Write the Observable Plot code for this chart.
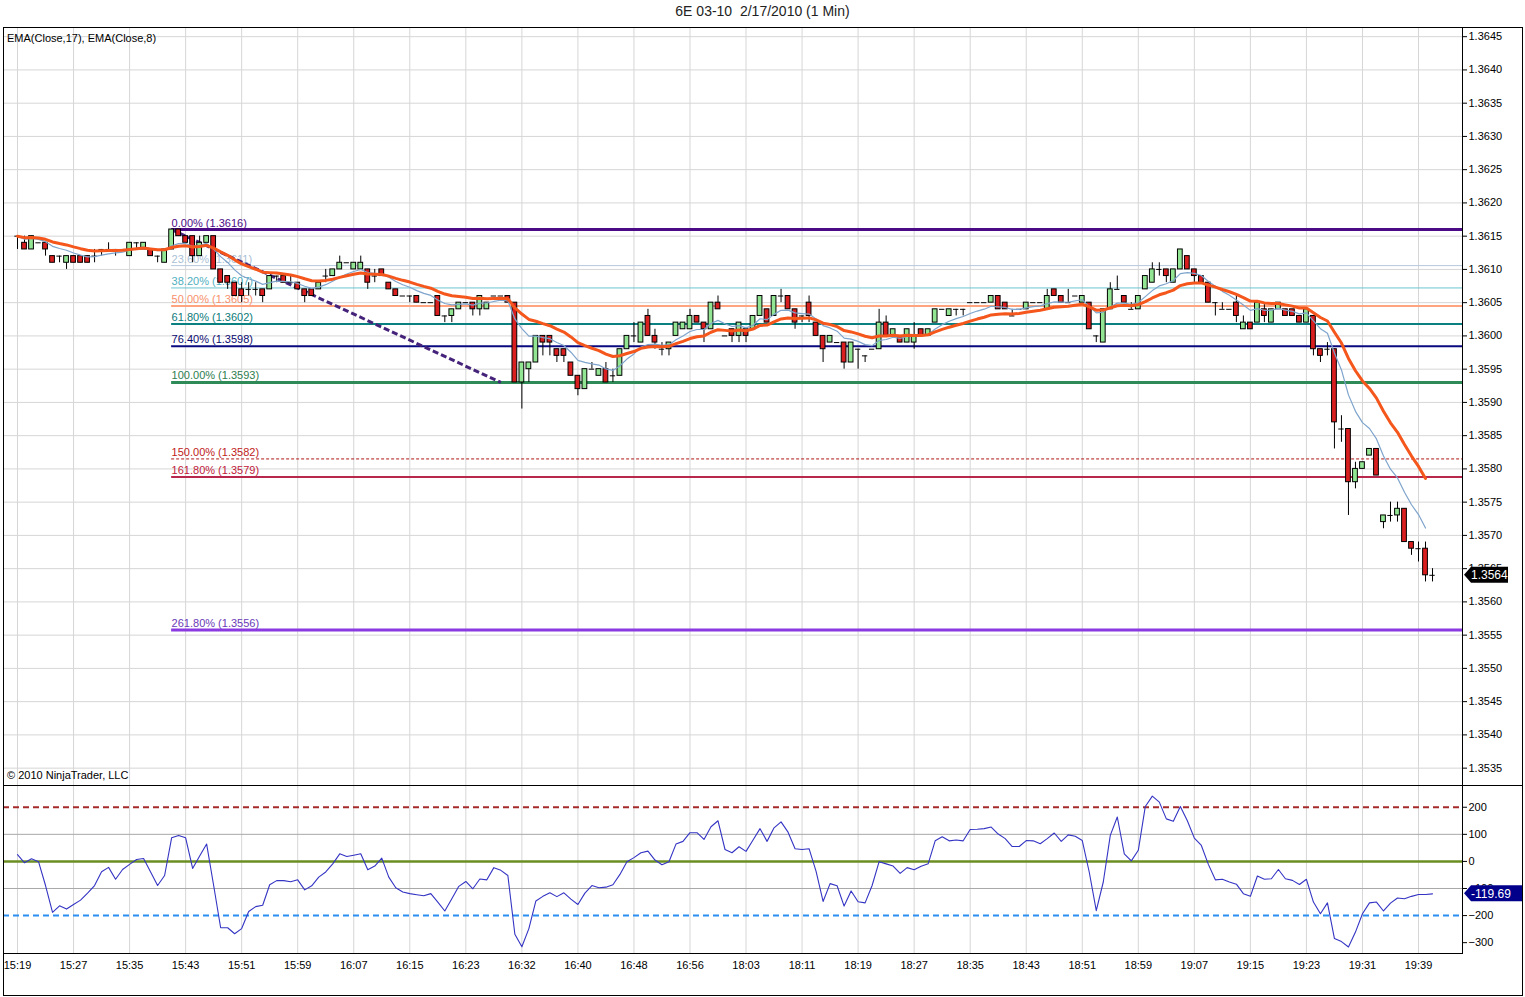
<!DOCTYPE html>
<html><head><meta charset="utf-8">
<script src="https://cdn.jsdelivr.net/npm/d3@7"></script>
<script src="https://cdn.jsdelivr.net/npm/@observablehq/plot@0.6"></script>
<style>
html,body{margin:0;padding:0;background:#fff;overflow:hidden;}
#wrap{position:relative;width:1525px;height:997px;font-family:"Liberation Sans",Arial,sans-serif;}
#title{position:absolute;left:0;top:3px;width:1525px;text-align:center;font-size:14px;color:#222;white-space:pre;}
#outer{position:absolute;left:3px;top:27px;width:1520px;height:969px;border:1px solid #000;box-sizing:border-box;}
#sep{position:absolute;left:3px;top:785px;width:1520px;height:1px;background:#000;}
#price{position:absolute;left:0;top:27px;}
#cci{position:absolute;left:0;top:785px;}
.note{position:absolute;left:7px;font-size:11px;color:#000;}
</style></head>
<body>
<div id="wrap">
  <div id="outer"></div>
  <div id="title">6E 03-10  2/17/2010 (1 Min)</div>
  <div id="price"></div>
  <div id="cci"></div>
  <div id="sep"></div>
  <div class="note" style="top:32px">EMA(Close,17), EMA(Close,8)</div>
  <div class="note" style="top:769px">© 2010 NinjaTrader, LLC</div>
</div>
<script>
// ---- data ----
const timeLabels = ["15:19","15:27","15:35","15:43","15:51","15:59","16:07","16:15","16:23","16:32","16:40","16:48","16:56","18:03","18:11","18:19","18:27","18:35","18:43","18:51","18:59","19:07","19:15","19:23","19:31","19:39"];
const timeLabelBars = [0,8,16,24,32,40,48,56,64,72,80,88,96,104,112,120,128,136,144,152,160,168,176,184,192,200];
const priceTicks = [1.3535,1.3540,1.3545,1.3550,1.3555,1.3560,1.3565,1.3570,1.3575,1.3580,1.3585,1.3590,1.3595,1.3600,1.3605,1.3610,1.3615,1.3620,1.3625,1.3630,1.3635,1.3640,1.3645];
const cciTicks = [200,100,0,-100,-200,-300];
const cciLevels = [200,0,-200];

const open = [
1.3615,1.3614,1.3613,1.3614,1.3614,1.3612,1.3612,1.3611,1.3612,1.3612,
1.3612,1.3612,1.3613,1.3613,1.3613,1.3613,1.3612,1.3614,1.3613,1.3613,
1.3612,1.3611,1.3613,1.3616,1.3615,1.3615,1.3612,1.3614,1.3615,1.3610,
1.3609,1.3608,1.3607,1.3607,1.3607,1.3607,1.3607,1.3609,1.3609,1.3608,
1.3608,1.3607,1.3607,1.3607,1.3609,1.3609,1.3610,1.3611,1.3610,1.3610,
1.3610,1.3609,1.3610,1.3608,1.3607,1.3606,1.3606,1.3606,1.3605,1.3605,
1.3606,1.3603,1.3603,1.3604,1.3605,1.3605,1.3604,1.3604,1.3606,1.3606,
1.3606,1.3605,1.3593,1.3595,1.3596,1.3600,1.3600,1.3598,1.3598,1.3596,
1.3594,1.3592,1.3595,1.3594,1.3595,1.3594,1.3594,1.3598,1.3600,1.3599,
1.3603,1.3600,1.3598,1.3598,1.3600,1.3601,1.3601,1.3603,1.3602,1.3601,
1.3605,1.3600,1.3601,1.3600,1.3601,1.3601,1.3603,1.3604,1.3603,1.3606,
1.3606,1.3604,1.3603,1.3605,1.3602,1.3600,1.3599,1.3599,1.3599,1.3596,
1.3598,1.3597,1.3598,1.3598,1.3602,1.3600,1.3600,1.3599,1.3599,1.3601,
1.3600,1.3602,1.3604,1.3603,1.3604,1.3604,1.3605,1.3605,1.3605,1.3605,
1.3606,1.3605,1.3603,1.3604,1.3604,1.3605,1.3605,1.3604,1.3607,1.3606,
1.3605,1.3606,1.3605,1.3605,1.3600,1.3599,1.3604,1.3607,1.3606,1.3604,
1.3604,1.3607,1.3608,1.3610,1.3610,1.3608,1.3610,1.3612,1.3610,1.3609,
1.3608,1.3605,1.3604,1.3604,1.3605,1.3601,1.3602,1.3602,1.3604,1.3602,
1.3604,1.3604,1.3604,1.3603,1.3602,1.3603,1.3598,1.3598,1.3598,1.3586,
1.3586,1.3578,1.3580,1.3582,1.3583,1.3572,1.3573,1.3573,1.3574,1.3569,
1.3568,1.3568,1.3564];
const high = [
1.3615,1.3615,1.3615,1.3614,1.3614,1.3612,1.3612,1.3612,1.3612,1.3612,
1.3612,1.3613,1.3613,1.3614,1.3613,1.3613,1.3614,1.3614,1.3614,1.3613,
1.3612,1.3613,1.3616,1.3616,1.3615,1.3615,1.3615,1.3615,1.3615,1.3610,
1.3609,1.3608,1.3608,1.3608,1.3608,1.3607,1.3609,1.3609,1.3609,1.3609,
1.3608,1.3607,1.3607,1.3608,1.3610,1.3610,1.3612,1.3611,1.3611,1.3612,
1.3610,1.3610,1.3610,1.3608,1.3607,1.3606,1.3606,1.3606,1.3605,1.3605,
1.3606,1.3603,1.3604,1.3605,1.3605,1.3605,1.3606,1.3605,1.3606,1.3606,
1.3606,1.3605,1.3596,1.3596,1.3600,1.3600,1.3600,1.3598,1.3598,1.3596,
1.3594,1.3595,1.3596,1.3595,1.3596,1.3595,1.3598,1.3600,1.3602,1.3602,
1.3604,1.3601,1.3599,1.3599,1.3602,1.3602,1.3604,1.3603,1.3602,1.3605,
1.3606,1.3600,1.3601,1.3602,1.3601,1.3603,1.3606,1.3604,1.3606,1.3607,
1.3606,1.3604,1.3603,1.3606,1.3602,1.3600,1.3600,1.3599,1.3599,1.3599,
1.3598,1.3597,1.3598,1.3604,1.3603,1.3601,1.3600,1.3601,1.3602,1.3601,
1.3601,1.3604,1.3604,1.3604,1.3604,1.3604,1.3605,1.3605,1.3605,1.3606,
1.3606,1.3605,1.3604,1.3604,1.3605,1.3605,1.3605,1.3607,1.3607,1.3606,
1.3607,1.3606,1.3606,1.3605,1.3600,1.3604,1.3608,1.3609,1.3606,1.3605,
1.3606,1.3609,1.3611,1.3611,1.3610,1.3610,1.3613,1.3612,1.3610,1.3609,
1.3608,1.3605,1.3605,1.3604,1.3606,1.3603,1.3602,1.3605,1.3605,1.3604,
1.3605,1.3604,1.3604,1.3603,1.3604,1.3603,1.3598,1.3599,1.3598,1.3588,
1.3586,1.3581,1.3581,1.3583,1.3583,1.3573,1.3575,1.3575,1.3574,1.3569,
1.3569,1.3569,1.3565];
const low = [
1.3613,1.3613,1.3613,1.3614,1.3612,1.3611,1.3611,1.3610,1.3611,1.3611,
1.3611,1.3611,1.3612,1.3613,1.3612,1.3613,1.3612,1.3613,1.3613,1.3612,
1.3611,1.3611,1.3613,1.3615,1.3614,1.3611,1.3612,1.3614,1.3610,1.3608,
1.3607,1.3606,1.3605,1.3606,1.3606,1.3605,1.3607,1.3608,1.3608,1.3608,
1.3607,1.3605,1.3606,1.3607,1.3608,1.3609,1.3610,1.3611,1.3610,1.3610,
1.3607,1.3608,1.3609,1.3607,1.3606,1.3606,1.3605,1.3605,1.3605,1.3605,
1.3603,1.3602,1.3602,1.3604,1.3605,1.3603,1.3603,1.3604,1.3606,1.3606,
1.3605,1.3593,1.3589,1.3593,1.3596,1.3597,1.3597,1.3596,1.3596,1.3594,
1.3591,1.3592,1.3595,1.3594,1.3593,1.3593,1.3594,1.3598,1.3599,1.3599,
1.3600,1.3598,1.3597,1.3597,1.3600,1.3601,1.3601,1.3602,1.3599,1.3601,
1.3604,1.3600,1.3599,1.3599,1.3599,1.3601,1.3603,1.3602,1.3603,1.3605,
1.3604,1.3601,1.3602,1.3602,1.3600,1.3596,1.3599,1.3599,1.3595,1.3596,
1.3595,1.3596,1.3598,1.3598,1.3600,1.3600,1.3599,1.3599,1.3598,1.3600,
1.3600,1.3602,1.3604,1.3603,1.3603,1.3603,1.3605,1.3605,1.3605,1.3605,
1.3604,1.3604,1.3603,1.3604,1.3604,1.3605,1.3605,1.3604,1.3606,1.3605,
1.3605,1.3606,1.3605,1.3601,1.3599,1.3599,1.3604,1.3607,1.3605,1.3604,
1.3604,1.3607,1.3608,1.3609,1.3608,1.3608,1.3610,1.3610,1.3608,1.3608,
1.3605,1.3603,1.3604,1.3604,1.3602,1.3601,1.3601,1.3602,1.3602,1.3602,
1.3604,1.3603,1.3603,1.3602,1.3602,1.3597,1.3596,1.3597,1.3583,1.3584,
1.3573,1.3577,1.3580,1.3582,1.3579,1.3571,1.3572,1.3572,1.3569,1.3567,
1.3566,1.3563,1.3563];
const close = [
1.3615,1.3613,1.3615,1.3614,1.3613,1.3611,1.3612,1.3612,1.3611,1.3611,
1.3611,1.3612,1.3613,1.3613,1.3613,1.3613,1.3614,1.3614,1.3614,1.3612,
1.3612,1.3613,1.3616,1.3615,1.3614,1.3612,1.3614,1.3615,1.3610,1.3608,
1.3608,1.3606,1.3606,1.3607,1.3607,1.3606,1.3609,1.3609,1.3608,1.3608,
1.3607,1.3606,1.3606,1.3608,1.3609,1.3610,1.3611,1.3611,1.3611,1.3611,
1.3608,1.3609,1.3609,1.3607,1.3606,1.3606,1.3606,1.3605,1.3605,1.3605,
1.3603,1.3603,1.3604,1.3605,1.3605,1.3604,1.3606,1.3605,1.3606,1.3606,
1.3605,1.3593,1.3596,1.3596,1.3600,1.3599,1.3599,1.3597,1.3597,1.3594,
1.3592,1.3595,1.3595,1.3595,1.3593,1.3594,1.3598,1.3600,1.3600,1.3602,
1.3600,1.3599,1.3598,1.3599,1.3602,1.3602,1.3603,1.3602,1.3601,1.3605,
1.3604,1.3600,1.3600,1.3602,1.3600,1.3603,1.3606,1.3602,1.3606,1.3606,
1.3604,1.3602,1.3603,1.3603,1.3600,1.3598,1.3600,1.3599,1.3596,1.3599,
1.3598,1.3597,1.3598,1.3602,1.3600,1.3601,1.3599,1.3601,1.3600,1.3600,
1.3601,1.3604,1.3604,1.3604,1.3604,1.3604,1.3605,1.3605,1.3605,1.3606,
1.3604,1.3604,1.3603,1.3604,1.3605,1.3605,1.3605,1.3606,1.3606,1.3605,
1.3605,1.3606,1.3606,1.3601,1.3600,1.3604,1.3607,1.3607,1.3605,1.3604,
1.3606,1.3609,1.3610,1.3610,1.3609,1.3610,1.3613,1.3610,1.3609,1.3608,
1.3605,1.3605,1.3604,1.3604,1.3603,1.3602,1.3601,1.3605,1.3603,1.3604,
1.3605,1.3603,1.3603,1.3602,1.3604,1.3598,1.3597,1.3598,1.3587,1.3586,
1.3578,1.3580,1.3581,1.3583,1.3579,1.3573,1.3573,1.3574,1.3569,1.3568,
1.3568,1.3564,1.3564];
const cci = [
25,-5,10,-1,-89,-188,-164,-176,-159,-143,
-117,-89,-38,-22,-66,-30,-11,7,11,-39,
-89,-52,87,96,87,-26,20,64,-89,-245,
-245,-267,-248,-185,-167,-162,-86,-71,-71,-75,
-68,-105,-90,-58,-39,-9,28,18,23,28,
-31,-17,12,-58,-97,-113,-119,-123,-127,-119,
-150,-183,-138,-92,-74,-101,-65,-68,-23,-33,
-52,-269,-315,-248,-146,-129,-116,-130,-116,-139,
-159,-117,-89,-97,-95,-86,-48,-1,14,32,
38,5,-12,-1,64,74,106,106,81,128,
150,44,32,54,37,79,121,74,124,146,
108,47,44,47,-37,-148,-82,-90,-165,-109,
-149,-153,-89,-1,-9,-17,-44,-23,-31,-18,
-9,76,91,76,79,76,118,119,121,127,
101,84,55,55,77,76,65,84,105,74,
98,93,77,-40,-182,-76,96,164,28,2,
41,203,241,219,157,148,203,150,86,59,
-11,-68,-66,-76,-84,-119,-129,-54,-66,-64,
-30,-64,-70,-85,-66,-150,-193,-153,-285,-296,
-316,-261,-193,-153,-150,-183,-154,-135,-138,-129,
-122,-122,-119.69];

// Fibonacci drawing: anchors and ratios
const fibHigh = 1.3616, fibLow = 1.3593;
const fibStartBar = 22, fibEndBar = 69;
const fibRatios = [0, 0.236, 0.382, 0.5, 0.618, 0.764, 1, 1.5, 1.618, 2.618];
const fibNames = ["0.00%","23.60%","38.20%","50.00%","61.80%","76.40%","100.00%","150.00%","161.80%","261.80%"];
const fibValueLabels = ["1.3616","1.3611","1.3607","1.3605","1.3602","1.3598","1.3593","1.3582","1.3579","1.3556"];
const emaPeriods = [17, 8];

// ---- styles ----
const fibStyles = [
  {line:"#4b0b86", text:"#4b0b86", w:3},
  {line:"#b4c8dc", text:"#a9bfd6", w:1},
  {line:"#6cc4d0", text:"#4fb0c0", w:1},
  {line:"#ffa47e", text:"#f7906a", w:2},
  {line:"#0b8080", text:"#0b7a7a", w:2},
  {line:"#0a0a80", text:"#0a0a70", w:2},
  {line:"#2e8b57", text:"#2e7d50", w:3},
  {line:"#b01818", text:"#c01a1a", w:1, dash:"3,2"},
  {line:"#b8284c", text:"#c0203a", w:2},
  {line:"#8a3ae0", text:"#6a3ab8", w:3}
];
const FONT = "Liberation Sans, Arial, sans-serif";
const xMin = -2, xMax = 206.28;

// ---- derived ----
const bars = open.map((o, i) => ({i, o, h: high[i], l: low[i], c: close[i]}));
const up = bars.filter(d => d.c > d.o);
const down = bars.filter(d => d.c < d.o);
const flat = bars.filter(d => d.c === d.o);
function ema(vals, n) {
  const a = 2 / (n + 1); let e = vals[0];
  return vals.map((v, k) => { e = k === 0 ? v : e + a * (v - e); return {i: k, v: e}; });
}
const closedBars = close.slice(0, close.length - 1);
const ema17 = ema(closedBars, emaPeriods[0]);
const ema8 = ema(closedBars, emaPeriods[1]);
const fibs = fibRatios.map((r, k) => ({
  price: fibHigh - r * (fibHigh - fibLow),
  label: `${fibNames[k]} (${fibValueLabels[k]})`,
  st: fibStyles[k]
}));
const trend = [{i: fibStartBar, p: fibHigh}, {i: fibEndBar, p: fibLow}];
const cciData = cci.map((v, i) => ({i, v}));

const fibMarks = fibs.flatMap(f => [
  Plot.ruleY([f.price], {x1: fibStartBar, x2: xMax, stroke: f.st.line, strokeWidth: f.st.w, strokeDasharray: f.st.dash || null}),
  Plot.text([f], {x: fibStartBar, y: "price", text: "label", textAnchor: "start", lineAnchor: "bottom", dy: -3, fill: f.st.text, fontSize: 11})
]);

const priceSvg = Plot.plot({
  width: 1525, height: 758, marginLeft: 3, marginRight: 63, marginTop: 0, marginBottom: 0,
  style: {fontFamily: FONT, fontSize: "11px", background: "transparent", overflow: "visible"},
  x: {type: "linear", domain: [xMin, xMax], axis: null},
  y: {domain: [1.353239, 1.364638], label: null},
  marks: [
    Plot.gridY(priceTicks, {stroke: "#d6d6d6", strokeOpacity: 1}),
    Plot.ruleX(timeLabelBars, {stroke: "#d6d6d6"}),
    ...fibMarks,
    Plot.line(trend, {x: "i", y: "p", stroke: "#45237a", strokeWidth: 3, strokeDasharray: "6,3", strokeLinecap: "butt"}),
    Plot.ruleX(bars, {x: "i", y1: "l", y2: "h", stroke: "#000", strokeWidth: 1}),
    Plot.rect(up, {x1: d => d.i - 0.34, x2: d => d.i + 0.34, y1: "o", y2: "c", fill: "#92e592", stroke: "#000", strokeWidth: 1}),
    Plot.rect(down, {x1: d => d.i - 0.34, x2: d => d.i + 0.34, y1: "o", y2: "c", fill: "#d81e1e", stroke: "#000", strokeWidth: 1}),
    Plot.ruleY(flat, {y: "o", x1: d => d.i - 0.38, x2: d => d.i + 0.38, stroke: "#000", strokeWidth: 1}),
    Plot.line(ema8, {x: "i", y: "v", stroke: "#7ea4cc", strokeWidth: 1.2}),
    Plot.line(ema17, {x: "i", y: "v", stroke: "#f4561b", strokeWidth: 3, strokeLinejoin: "round"}),
    Plot.axisY(priceTicks, {anchor: "right", label: null, tickFormat: d3.format(".4f"), tickSize: 4, tickPadding: 2, fontSize: 11, color: "#000"}),
    Plot.frame({stroke: "#000"})
  ]
});
document.getElementById("price").appendChild(priceSvg);

// last price marker
{
  const last = close[close.length - 1];
  const yy = priceSvg.scale("y").apply(last);
  const x0 = priceSvg.scale("x").apply(xMax);
  const g = d3.select(priceSvg).append("g");
  g.append("path").attr("d", `M${x0+2},${yy} L${x0+9},${yy-8} L${x0+46},${yy-8} L${x0+46},${yy+8} L${x0+9},${yy+8} Z`).attr("fill", "#000");
  g.append("text").attr("x", x0 + 9).attr("y", yy).attr("dy", "0.35em").attr("fill", "#fff").attr("text-anchor", "start")
    .attr("font-size", 12).attr("font-family", FONT).text(last.toFixed(4));
}

const cciSvg = Plot.plot({
  width: 1525, height: 210, marginLeft: 3, marginRight: 63, marginTop: 0, marginBottom: 42,
  style: {fontFamily: FONT, fontSize: "11px", background: "transparent", overflow: "visible"},
  x: {type: "linear", domain: [xMin, xMax], label: null},
  y: {domain: [-340, 280.3], label: null},
  marks: [
    Plot.ruleX(timeLabelBars, {stroke: "#d6d6d6"}),
    Plot.gridY([100, -100], {stroke: "#a8a8a8", strokeOpacity: 1}),
    Plot.ruleY([cciLevels[0]], {stroke: "#a52a2a", strokeWidth: 2, strokeDasharray: "6,4"}),
    Plot.ruleY([cciLevels[1]], {stroke: "#6b8e23", strokeWidth: 2.5}),
    Plot.ruleY([cciLevels[2]], {stroke: "#2a8ff0", strokeWidth: 2, strokeDasharray: "6,4"}),
    Plot.line(cciData, {x: "i", y: "v", stroke: "#3434c4", strokeWidth: 1.1}),
    Plot.axisY(cciTicks, {anchor: "right", label: null, tickSize: 4, tickPadding: 2, fontSize: 11, color: "#000"}),
    Plot.axisX(timeLabelBars, {anchor: "bottom", label: null, tickSize: 0, tickPadding: 8, fontSize: 11, color: "#000",
      tickFormat: d => timeLabels[timeLabelBars.indexOf(d)]}),
    Plot.frame({stroke: "#000"})
  ]
});
document.getElementById("cci").appendChild(cciSvg);

{
  const last = cci[cci.length - 1];
  const yy = cciSvg.scale("y").apply(last);
  const x0 = cciSvg.scale("x").apply(xMax);
  const g = d3.select(cciSvg).append("g");
  g.append("path").attr("d", `M${x0+2},${yy} L${x0+9},${yy-8} L${x0+60},${yy-8} L${x0+60},${yy+8} L${x0+9},${yy+8} Z`).attr("fill", "#00008b");
  g.append("text").attr("x", x0 + 9).attr("y", yy).attr("dy", "0.35em").attr("fill", "#fff").attr("text-anchor", "start")
    .attr("font-size", 12).attr("font-family", FONT).text(last.toFixed(2));
}
</script>
</body></html>
